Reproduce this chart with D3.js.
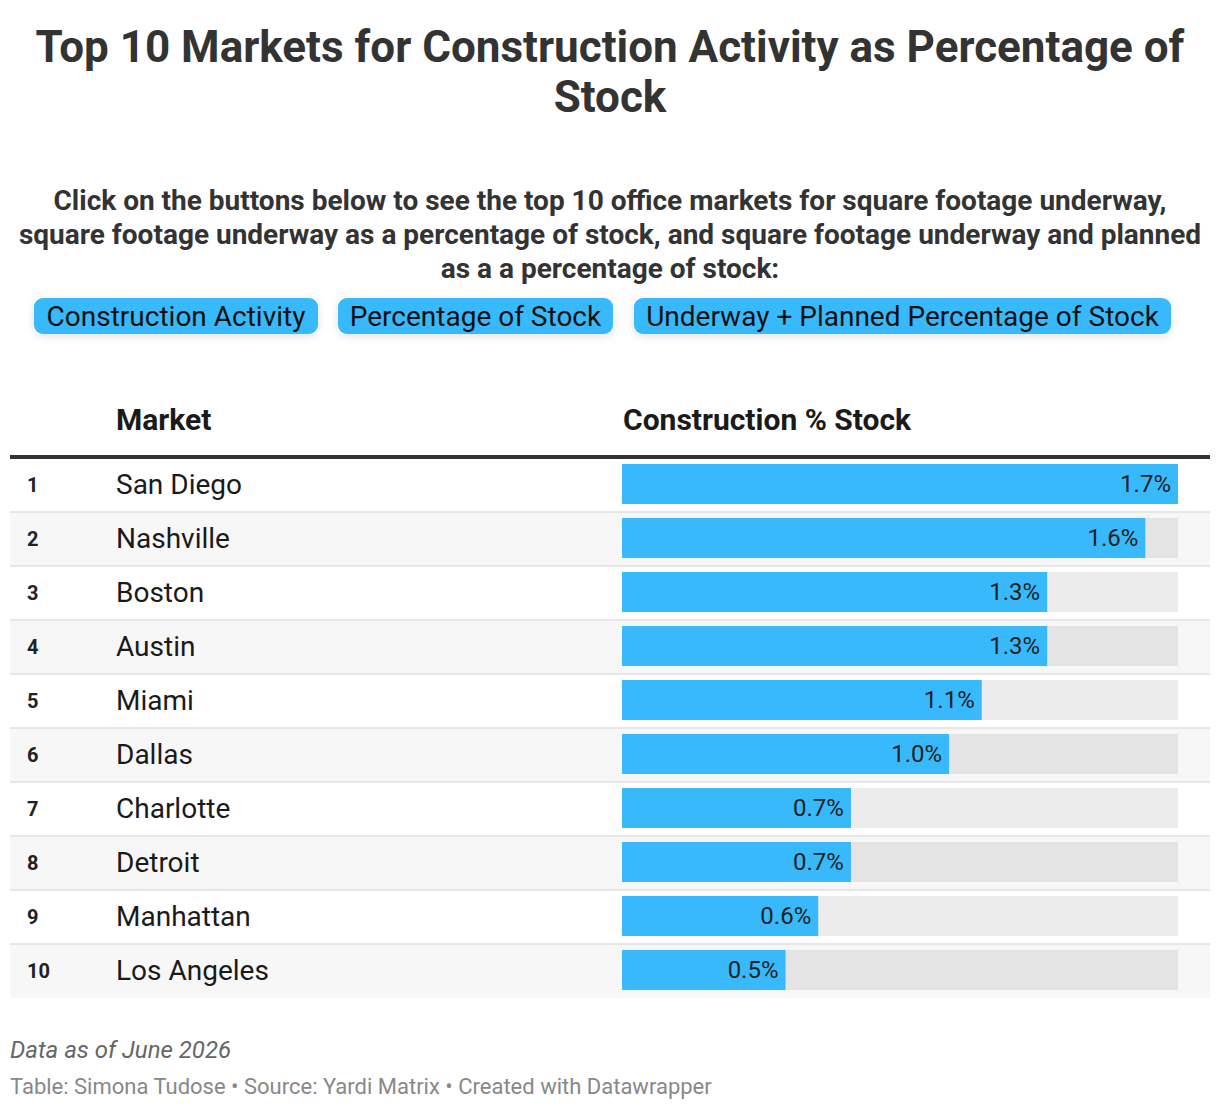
<!DOCTYPE html>
<html>
<head>
<meta charset="utf-8">
<script src="https://cdn.jsdelivr.net/npm/d3@7"></script>
<style>
  html, body { margin: 0; padding: 0; background: #fff; }
  svg { display: block; font-family: Roboto, "Noto Sans", sans-serif; }
</style>
</head>
<body>
<div id="chart"></div>
<script>
const titleLines = ["Top 10 Markets for Construction Activity as Percentage of", "Stock"];
const subtitleLines = [
  "Click on the buttons below to see the top 10 office markets for square footage underway,",
  "square footage underway as a percentage of stock, and square footage underway and planned",
  "as a a percentage of stock:"
];
const buttons = ["Construction Activity", "Percentage of Stock", "Underway + Planned Percentage of Stock"];
const ranks = [1, 2, 3, 4, 5, 6, 7, 8, 9, 10];
const markets = ["San Diego", "Nashville", "Boston", "Austin", "Miami", "Dallas", "Charlotte", "Detroit", "Manhattan", "Los Angeles"];
const values = [1.7, 1.6, 1.3, 1.3, 1.1, 1.0, 0.7, 0.7, 0.6, 0.5];
const headers = ["Market", "Construction % Stock"];
const notes = "Data as of June 2026";
const footer = "Table: Simona Tudose • Source: Yardi Matrix • Created with Datawrapper";

const W = 1220, H = 1110;
const svg = d3.select("#chart").append("svg").attr("width", W).attr("height", H);

const defs = svg.append("defs");
const f = defs.append("filter").attr("id", "shadow").attr("x", "-10%").attr("y", "-40%").attr("width", "120%").attr("height", "200%");
f.append("feDropShadow").attr("dx", 0).attr("dy", 2).attr("stdDeviation", 4).attr("flood-color", "#000").attr("flood-opacity", 0.12);

// Title
svg.append("g").selectAll("text").data(titleLines).join("text")
  .attr("x", W / 2).attr("y", (d, i) => 62 + i * 50)
  .attr("text-anchor", "middle").attr("font-size", 44).attr("font-weight", 700).attr("fill", "#333")
  .text(d => d);

// Subtitle
svg.append("g").selectAll("text").data(subtitleLines).join("text")
  .attr("x", W / 2).attr("y", (d, i) => 210 + i * 34)
  .attr("text-anchor", "middle").attr("font-size", 28).attr("font-weight", 700).attr("fill", "#333")
  .text(d => d);

// Buttons
const btnX = [34, 338, 634];
const btnW = [284, 275, 537];
const bg = svg.append("g").selectAll("g").data(buttons).join("g")
  .attr("transform", (d, i) => `translate(${btnX[i]},298)`);
bg.append("rect").attr("width", (d, i) => btnW[i]).attr("height", 36).attr("rx", 9)
  .attr("fill", "#38b9fc").attr("filter", "url(#shadow)");
bg.append("text").attr("x", (d, i) => btnW[i] / 2).attr("y", 28)
  .attr("text-anchor", "middle").attr("font-size", 28).attr("fill", "#111").text(d => d);

// Table
const x = d3.scaleLinear().domain([0, d3.max(values)]).range([622, 1178]);
const y = d3.scaleBand().domain(ranks).range([459, 459 + 54 * ranks.length]);

svg.append("text").attr("x", 116).attr("y", 430).attr("font-size", 30).attr("font-weight", 700).attr("fill", "#1a1a1a").text(headers[0]);
svg.append("text").attr("x", 623).attr("y", 430).attr("font-size", 30).attr("font-weight", 700).attr("fill", "#1a1a1a").text(headers[1]);

const rows = svg.append("g").selectAll("g").data(ranks).join("g")
  .attr("transform", d => `translate(0,${y(d)})`);

rows.append("rect").attr("x", 10).attr("y", 0).attr("width", 1200).attr("height", y.step() - 1)
  .attr("fill", (d, i) => i % 2 === 1 ? "#f7f7f7" : "#fff");
rows.filter((d, i) => i < ranks.length - 1).append("rect")
  .attr("x", 10).attr("y", y.step() - 2).attr("width", 1200).attr("height", 2).attr("fill", "#e6e6e6");

rows.append("rect").attr("x", x(0)).attr("y", 5).attr("width", x(d3.max(values)) - x(0)).attr("height", 40)
  .attr("fill", "rgba(0,0,0,0.075)");
rows.append("rect").attr("x", x(0)).attr("y", 5).attr("width", (d, i) => x(values[i]) - x(0)).attr("height", 40)
  .attr("fill", "#38b9fc");
rows.append("text").attr("x", (d, i) => x(values[i]) - 7).attr("y", 33)
  .attr("text-anchor", "end").attr("font-size", 24).attr("fill", "#222")
  .text((d, i) => values[i].toFixed(1) + "%");

rows.append("text").attr("x", 27).attr("y", 33).attr("font-size", 20).attr("font-weight", 700).attr("fill", "#222").text(d => d);
rows.append("text").attr("x", 116).attr("y", 35).attr("font-size", 28).attr("fill", "#1a1a1a").text((d, i) => markets[i]);

// header rule
svg.append("rect").attr("x", 10).attr("y", 455).attr("width", 1200).attr("height", 4).attr("fill", "#333");

// Footer
svg.append("text").attr("x", 10).attr("y", 1058).attr("font-size", 24).attr("font-style", "italic").attr("fill", "#666").text(notes);
svg.append("text").attr("x", 10).attr("y", 1094).attr("font-size", 22).attr("fill", "#888").text(footer);
</script>
</body>
</html>
